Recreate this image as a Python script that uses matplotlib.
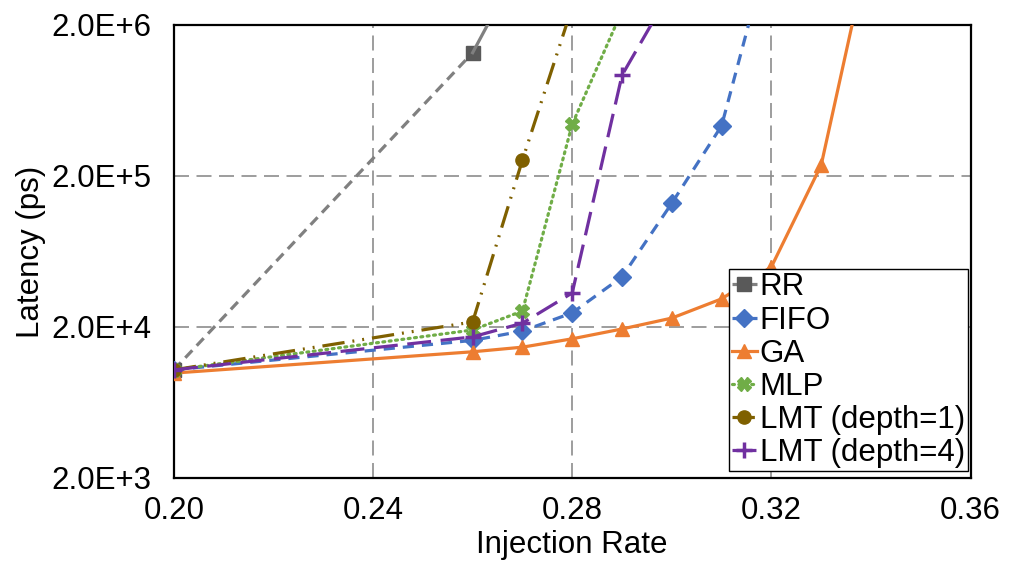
import matplotlib
matplotlib.use("Agg")
import matplotlib.pyplot as plt
from matplotlib.ticker import FixedLocator, FixedFormatter, NullLocator

plt.rcParams['font.family'] = ['Liberation Sans', 'DejaVu Sans']

# injection rates that carry data (points off the top are clipped by the axes)
rate_rr = [0.20, 0.26, 0.27]
lat_rr = [1.04e4, 1.31e6, 5.4e6]

rate_fifo = [0.20, 0.26, 0.27, 0.28, 0.29, 0.30, 0.31, 0.32]
lat_fifo = [1.04e4, 1.63e4, 1.88e4, 2.48e4, 4.29e4, 1.32e5, 4.3e5, 7.4e6]

rate_ga = [0.20, 0.26, 0.27, 0.28, 0.29, 0.30, 0.31, 0.32, 0.33, 0.34]
lat_ga = [9.9e3, 1.37e4, 1.47e4, 1.67e4, 1.94e4, 2.29e4, 3.07e4, 5.0e4, 2.36e5, 7.4e6]

rate_mlp = [0.20, 0.26, 0.27, 0.28, 0.29]
lat_mlp = [1.04e4, 1.91e4, 2.55e4, 4.4e5, 2.48e6]

rate_lmt1 = [0.20, 0.26, 0.27, 0.28]
lat_lmt1 = [1.04e4, 2.16e4, 2.55e5, 2.63e6]

rate_lmt4 = [0.20, 0.26, 0.27, 0.28, 0.29, 0.30]
lat_lmt4 = [1.04e4, 1.72e4, 2.12e4, 3.36e4, 9.3e5, 3.46e6]

x_ticks = [0.20, 0.24, 0.28, 0.32, 0.36]
x_labels = ['0.20', '0.24', '0.28', '0.32', '0.36']
y_ticks = [2e3, 2e4, 2e5, 2e6]
y_labels = ['2.0E+3', '2.0E+4', '2.0E+5', '2.0E+6']

fs = 22.5

fig = plt.figure(figsize=(10.11, 5.67), dpi=100)
ax = fig.add_axes([0.172, 0.157, 0.788, 0.799])

lw = 2.3
ms = 9.5

# RR: dashed up to its last visible point, solid beyond
ax.plot(rate_rr[:2], lat_rr[:2], color='#808080', lw=lw, dashes=(3.2, 2.0),
        marker='s', ms=ms, mfc='#595959', mec='#595959', label='RR', zorder=3)
ax.plot(rate_rr[1:], lat_rr[1:], color='#808080', lw=lw, zorder=3)

ax.plot(rate_fifo, lat_fifo, color='#4472C4', lw=lw, dashes=(3.5, 2.5),
        marker='D', ms=ms, label='FIFO', zorder=4)
ax.plot(rate_ga, lat_ga, color='#ED7D31', lw=lw,
        marker='^', ms=ms + 1, label='GA', zorder=5)
ax.plot(rate_mlp, lat_mlp, color='#70AD47', lw=lw, dashes=(0.6, 1.4),
        dash_capstyle='round', marker='X', ms=ms, label='MLP', zorder=6)
ax.plot(rate_lmt1, lat_lmt1, color='#7F6000', lw=lw,
        dashes=(7, 2.5, 0.6, 2.5, 0.6, 2.5), marker='o', ms=ms, label='LMT (depth=1)', zorder=7)
ax.plot(rate_lmt4, lat_lmt4, color='#7030A0', lw=lw, dashes=(7.5, 3),
        marker='+', ms=ms + 2, mew=2.5, label='LMT (depth=4)', zorder=8)

ax.set_yscale('log')
ax.set_xlim(0.20, 0.36)
ax.set_ylim(2e3, 2e6)
ax.xaxis.set_major_locator(FixedLocator(x_ticks))
ax.xaxis.set_major_formatter(FixedFormatter(x_labels))
ax.yaxis.set_major_locator(FixedLocator(y_ticks))
ax.yaxis.set_major_formatter(FixedFormatter(y_labels))
ax.yaxis.set_minor_locator(NullLocator())
ax.tick_params(axis='both', length=0, labelsize=fs)
ax.tick_params(axis='x', pad=13)
ax.tick_params(axis='y', pad=16)

ax.grid(True, color='#8c8c8c', lw=1.2, dashes=(9, 4.5), zorder=1)
for s in ax.spines.values():
    s.set_linewidth(1.6)
    s.set_color('black')

ax.set_xlabel('Injection Rate', fontsize=fs, labelpad=3)
ax.set_ylabel('Latency (ps)', fontsize=fs, labelpad=4)

leg = ax.legend(loc='lower right', bbox_to_anchor=(0.997, 0.015), fontsize=fs,
                handlelength=0.8, handletextpad=0.1, labelspacing=0.1,
                borderpad=0.1, borderaxespad=0.0, fancybox=False, framealpha=1,
                edgecolor='black')
leg.get_frame().set_linewidth(1.0)
leg.set_zorder(10)

fig.savefig('out.png', dpi=100)
